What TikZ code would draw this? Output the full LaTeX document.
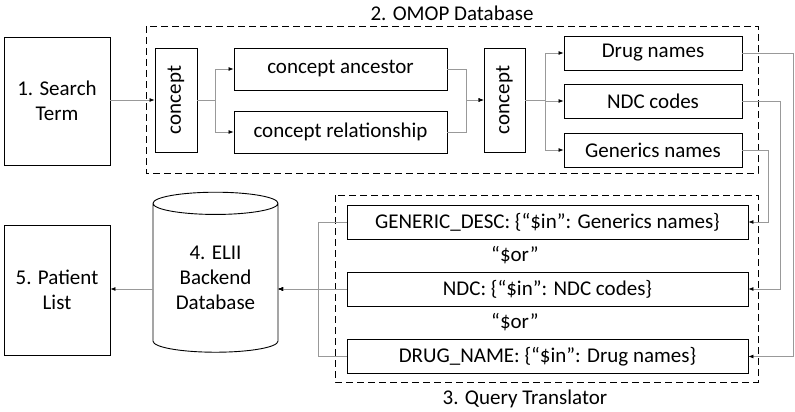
\documentclass[tikz,border=0pt]{standalone}
\usepackage{fontspec}
\setmainfont{Carlito}
\usetikzlibrary{shapes.geometric,arrows.meta}
\begin{document}
\begin{tikzpicture}[x=1pt,y=-1pt,
  every node/.style={font=\fontsize{21}{25}\selectfont},
  box/.style={draw,line width=0.9pt,inner sep=0pt,align=center},
  grp/.style={draw,dash pattern=on 7pt off 4pt,line width=0.9pt},
  con/.style={draw=gray!80,line width=0.7pt,-{Latex[black,length=5pt,width=4pt]}}]
\useasboundingbox (0,0) rectangle (795,412);
\draw[grp] (146,26) rectangle (758,173);
\node at (452,13) {2. OMOP Database};
\draw[grp] (335,195) rectangle (758,382);
\node at (525,399) {3. Query Translator};
\node[box,minimum width=106pt,minimum height=128pt] (st) at (57,101) {1. Search\\Term};
\node[box,minimum width=42pt,minimum height=104pt] (c1) at (176,100) {};
\node[rotate=90] at (c1) {concept};
\node[box,minimum width=213pt,minimum height=42pt] (ca) at (340.5,69) {concept ancestor};
\node[box,minimum width=213pt,minimum height=42pt] (cr) at (340.5,132) {concept relationship};
\node[box,minimum width=41pt,minimum height=104pt] (c2) at (504.5,100) {};
\node[rotate=90] at (c2) {concept};
\node[box,minimum width=178pt,minimum height=34pt] (dn) at (653,53) {Drug names};
\node[box,minimum width=178pt,minimum height=34pt] (nc) at (653,101) {NDC codes};
\node[box,minimum width=178pt,minimum height=34pt] (gn) at (653,150) {Generics names};
\node[box,minimum width=401pt,minimum height=34pt] (qg) at (547.5,222) {GENERIC\_DESC: \{“\$in”: Generics names\}};
\node[box,minimum width=401pt,minimum height=34pt] (qn) at (547.5,289) {NDC: \{“\$in”: NDC codes\}};
\node[box,minimum width=401pt,minimum height=34pt] (qd) at (547.5,356.5) {DRUG\_NAME: \{“\$in”: Drug names\}};
\node at (515,255) {“\$or”};
\node at (515,322) {“\$or”};
\node[draw,line width=0.9pt,cylinder,shape border rotate=90,aspect=0.28,minimum width=125pt,minimum height=160pt,inner sep=0pt,align=center] (db) at (215.5,278) {4. ELII\\Backend\\Database};
\node[box,minimum width=106pt,minimum height=130pt] (pl) at (57,290) {5. Patient\\List};
\coordinate (dbR) at (278,289);
\coordinate (dbL) at (153,289);
% connectors
\draw[con] (st.east |- 0,100) -- (c1.west);
\draw[con] (c1.east) -- (215,100) |- (ca.west);
\draw[con] (c1.east) -- (215,100) |- (cr.west);
\draw[con] (ca.east) -| (466,100) -- (c2.west);
\draw[con] (cr.east) -| (466,100) -- (c2.west);
\draw[con] (c2.east) -- (545,100) |- (dn.west);
\draw[con] (c2.east) -- (545,100) |- (nc.west);
\draw[con] (c2.east) -- (545,100) |- (gn.west);
\draw[con] (dn.east) -- (793,53) |- (qd.east);
\draw[con] (nc.east) -- (780,101) |- (qn.east);
\draw[con] (gn.east) -- (768,150) |- (qg.east);
\draw[con] (qg.west) -| (318,289) -- (dbR);
\draw[con] (qd.west) -| (318,289) -- (dbR);
\draw[con] (qn.west) -- (dbR);
\draw[con] (dbL) -- (pl.east |- 0,289);
\end{tikzpicture}
\end{document}
